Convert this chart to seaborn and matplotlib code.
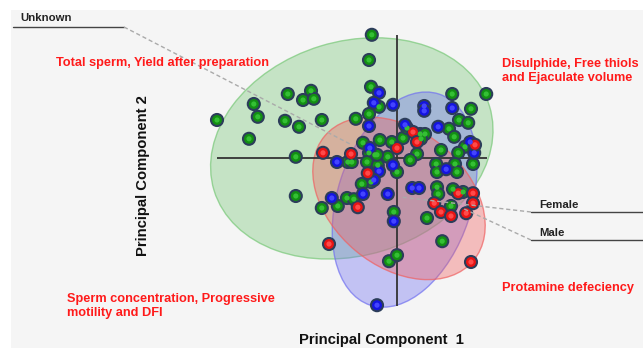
import pandas as pd
import matplotlib
matplotlib.use('Agg')
import matplotlib.pyplot as plt
from matplotlib.patches import Ellipse, Rectangle
from matplotlib.lines import Line2D
import seaborn as sns

sns.set_theme(style='white')
plt.rcParams['font.family'] = ['Liberation Sans', 'DejaVu Sans']

# PCA scores (PC1, PC2)
unknown_pc1 = [-4.50, -3.58, -3.48, -3.70, -2.73, -2.15, -2.35, -2.08, -2.80, -2.45,
               -1.88, -2.53, -2.53, -1.88, -0.63, -0.70, -0.65, -0.45, -1.03, -0.70,
               1.38, 2.23, 1.85, 1.55, 1.78, 1.30, 1.43, -0.85, -0.43, -0.13,
               0.15, 0.25, 0.58, 0.70, 0.60, 1.10, 1.70, 1.53, -0.70, -0.55,
               -0.23, 0.50, 0.33, -1.23, -1.13, -0.75, -0.48, 0.00, -0.65, -0.88,
               -1.25, -1.08, -1.48, -0.08, 0.98, 1.00, 1.45, 1.50, 1.90, 1.00,
               1.03, 1.40, 1.65, 1.35, 0.75, 1.13, -0.20, 0.00, -0.50]
unknown_pc2 = [0.95, 1.35, 1.03, 0.48, 1.60, 1.68, 1.45, 1.48, 0.93, 0.78,
               0.95, 0.03, -0.95, -1.25, 3.08, 2.45, 1.78, 1.28, 0.98, 1.10,
               1.60, 1.60, 1.23, 0.95, 0.88, 0.73, 0.53, 0.38, 0.45, 0.40,
               0.50, 0.75, 0.60, 0.60, 0.48, 0.20, 0.28, 0.13, 0.13, 0.08,
               0.03, 0.10, -0.05, -0.10, -0.10, -0.10, -0.18, -0.35, -0.60, -0.65,
               -1.00, -1.03, -1.20, -1.35, -0.15, -0.35, -0.15, -0.35, -0.15, -0.73,
               -0.90, -0.78, -0.85, -1.20, -1.50, -2.08, -2.58, -2.43, 0.08]

male_pc1 = [-0.45, -0.58, -0.10, -0.70, 0.68, 0.68, 1.38, 1.03, 0.20, 1.83,
            1.93, -0.68, -1.50, -0.45, -0.10, -0.58, -0.85, -0.23, -1.63, -0.08,
            0.38, 0.55, 1.23, -0.50]
male_pc2 = [1.63, 1.38, 1.33, 0.80, 1.30, 1.18, 1.25, 0.78, 0.83, 0.40,
            0.13, 0.25, -0.10, -0.33, -0.18, -0.55, -0.90, -0.90, -1.00, -1.58,
            -0.75, -0.75, -0.28, -3.68]

female_pc1 = [-1.85, -1.15, 0.40, 0.50, 0.00, 1.95, -0.73, -0.98, -1.70, 0.93,
              1.53, 1.90, 1.90, 1.10, 1.35, 1.73, 1.85]
female_pc2 = [0.13, 0.10, 0.65, 0.40, 0.25, 0.33, -0.38, -1.23, -2.15, -1.13,
              -0.88, -0.88, -1.13, -1.35, -1.45, -1.38, -2.60]

# confidence ellipses per group: centre, width, height, angle
groups = ['Unknown', 'Male', 'Female']
ell_x = [-1.13, 0.19, 0.05]
ell_y = [0.24, -1.04, -1.01]
ell_w = [7.2, 5.55, 4.85]
ell_h = [5.35, 3.35, 3.4]
ell_angle = [17, 72, -40]

fill_colors = {'Unknown': '#78c878', 'Female': '#f06060', 'Male': '#7070f0'}
dot_colors = {'Unknown': '#138f13', 'Female': '#e81414', 'Male': '#1414e0'}
dot_light = {'Unknown': '#34c034', 'Female': '#ff4a4a', 'Male': '#4444ff'}

df = pd.concat([
    pd.DataFrame({'pc1': unknown_pc1, 'pc2': unknown_pc2, 'group': 'Unknown'}),
    pd.DataFrame({'pc1': male_pc1, 'pc2': male_pc2, 'group': 'Male'}),
    pd.DataFrame({'pc1': female_pc1, 'pc2': female_pc2, 'group': 'Female'}),
], ignore_index=True)

W, H = 643, 348
fig = plt.figure(figsize=(W / 100, H / 100), dpi=100)
fig.patch.set_facecolor('white')
ax = fig.add_axes([0, 0, 1, 1])
# 40 px per unit, crosshair origin at (397, 158) px
xlim = (-397 / 40, (W - 397) / 40)
ylim = (-(H - 158) / 40, 158 / 40)
ax.axis('off')

ax.add_patch(Rectangle((11 / W, 0), 1, 1 - 10 / H, transform=ax.transAxes,
                       facecolor='#f5f5f5', edgecolor='none', zorder=0))

for g, x, y, w, h, a in zip(groups, ell_x, ell_y, ell_w, ell_h, ell_angle):
    c = fill_colors[g]
    ax.add_patch(Ellipse((x, y), w, h, angle=a, facecolor=c, alpha=0.38,
                         edgecolor='none', zorder=1))
    ax.add_patch(Ellipse((x, y), w, h, angle=a, facecolor='none', edgecolor=c,
                         alpha=0.7, lw=1, zorder=1))

ax.hlines(0, -4.5, 2.25, color='#333333', lw=1.3, zorder=2)
ax.vlines(0, -3.7, 3.08, color='#333333', lw=1.3, zorder=2)

sns.scatterplot(data=df, x='pc1', y='pc2', hue='group', palette=dot_colors,
                s=75, edgecolor='#2c3d5a', linewidth=1.5, legend=False,
                ax=ax, zorder=3)
sns.scatterplot(data=df, x='pc1', y='pc2', hue='group', palette=dot_light,
                s=14, edgecolor='none', linewidth=0, legend=False,
                ax=ax, zorder=4)
ax.set_xlim(*xlim)
ax.set_ylim(*ylim)


def fx(px):
    return px / W


def fy(py):
    return 1 - py / H


def leader(xs, ys, **kw):
    fig.add_artist(Line2D([fx(v) for v in xs], [fy(v) for v in ys],
                          transform=fig.transFigure, **kw))


red = '#ff1a1a'
fig.text(fx(56), fy(66), 'Total sperm, Yield after preparation', color=red,
         fontsize=9.2, fontweight='bold', va='baseline')
fig.text(fx(502), fy(81), 'Disulphide, Free thiols\nand Ejaculate volume',
         color=red, fontsize=9.2, fontweight='bold', va='baseline', linespacing=1.25)
fig.text(fx(67), fy(316), 'Sperm concentration, Progressive\nmotility and DFI',
         color=red, fontsize=9.2, fontweight='bold', va='baseline', linespacing=1.25)
fig.text(fx(502), fy(291), 'Protamine defeciency', color=red,
         fontsize=9.2, fontweight='bold', va='baseline')

fig.text(fx(381), fy(344), 'Principal Component  1', fontsize=10.7,
         fontweight='bold', color='#111111', ha='center', va='baseline')
fig.text(fx(143), fy(176), 'Principal Component 2', fontsize=10.7,
         fontweight='bold', color='#111111', ha='center', va='center',
         rotation=90)

fig.text(fx(20), fy(21), 'Unknown', fontsize=8.2, fontweight='bold',
         color='#222222', va='baseline')
fig.text(fx(539), fy(208), 'Female', fontsize=8.2, fontweight='bold',
         color='#222222', va='baseline')
fig.text(fx(539), fy(236), 'Male', fontsize=8.2, fontweight='bold',
         color='#222222', va='baseline')

leader([13, 124], [27, 27], color='#444444', lw=1)
leader([124, 352], [27, 145], color='#aaaaaa', lw=1, dashes=(3, 2))
leader([531, 643], [212, 212], color='#444444', lw=1)
leader([531, 400], [212, 197], color='#aaaaaa', lw=1, dashes=(3, 2))
leader([531, 643], [240, 240], color='#444444', lw=1)
leader([531, 462], [240, 208], color='#aaaaaa', lw=1, dashes=(3, 2))

fig.savefig('out.png', dpi=100)
